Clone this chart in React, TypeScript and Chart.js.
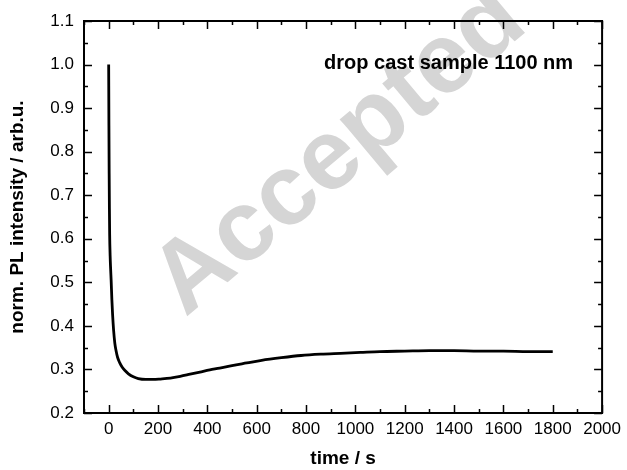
import { useEffect, useRef } from "react";
import { Chart, registerables } from "chart.js";

Chart.register(...registerables);

// Normalised PL intensity transient of the drop-cast film
const timeS = [
  0, 1, 2, 3, 4, 6, 8, 10, 13, 16, 20, 25, 30, 36, 45, 55, 65, 80, 100, 120,
  150, 180, 210, 250, 290, 330, 370, 410, 450, 500, 560, 620, 700, 780, 860,
  940, 1020, 1100, 1200, 1300, 1400, 1500, 1600, 1700, 1800,
];
const normPL = [
  1.0, 0.86, 0.75, 0.67, 0.61, 0.56, 0.53, 0.505, 0.46, 0.425, 0.39, 0.36,
  0.343, 0.328, 0.315, 0.305, 0.298, 0.29, 0.283, 0.279, 0.277, 0.277, 0.278,
  0.28, 0.284, 0.289, 0.294, 0.299, 0.303, 0.309, 0.315, 0.321, 0.327, 0.332,
  0.335, 0.337, 0.339, 0.341, 0.342, 0.343, 0.343, 0.342, 0.342, 0.341, 0.341,
];

const xTickValues = [0, 200, 400, 600, 800, 1000, 1200, 1400, 1600, 1800, 2000];
const xMinorValues = [-100, 100, 300, 500, 700, 900, 1100, 1300, 1500, 1700, 1900];
const yTickValues = [0.2, 0.3, 0.4, 0.5, 0.6, 0.7, 0.8, 0.9, 1.0, 1.1];
const yMinorValues = [0.25, 0.35, 0.45, 0.55, 0.65, 0.75, 0.85, 0.95, 1.05];

const xTitle = "time / s";
const yTitle = "norm. PL intensity / arb.u.";
const sampleLabel = "drop cast sample 1100 nm";
const stampText = "Accepted";

const FONT = '"Liberation Sans", Arial, Helvetica, sans-serif';

// Light grey diagonal stamp behind the curve
const stampPlugin = {
  id: "stamp",
  beforeDatasetsDraw(chart: any) {
    const { ctx } = chart;
    ctx.save();
    ctx.translate(340, 152);
    ctx.rotate((-40 * Math.PI) / 180);
    ctx.font = `bold 100px ${FONT}`;
    ctx.fillStyle = "#d5d5d5";
    ctx.textAlign = "center";
    ctx.textBaseline = "middle";
    ctx.fillText(stampText, 0, 0);
    ctx.restore();
  },
};

// Boxed frame with inward ticks on all four sides, plus the sample label
const framePlugin = {
  id: "frameTicks",
  afterDatasetsDraw(chart: any) {
    const { ctx, chartArea } = chart;
    const { left, right, top, bottom } = chartArea;
    const xs = chart.scales.x;
    const ys = chart.scales.y;
    ctx.save();
    ctx.strokeStyle = "#000";
    ctx.lineWidth = 1.5;
    ctx.beginPath();
    const xMark = (v: number, len: number) => {
      const px = Math.round(xs.getPixelForValue(v)) + 0.5;
      ctx.moveTo(px, bottom);
      ctx.lineTo(px, bottom - len);
      ctx.moveTo(px, top);
      ctx.lineTo(px, top + len);
    };
    const yMark = (v: number, len: number) => {
      const py = Math.round(ys.getPixelForValue(v)) + 0.5;
      ctx.moveTo(left, py);
      ctx.lineTo(left + len, py);
      ctx.moveTo(right, py);
      ctx.lineTo(right - len, py);
    };
    xTickValues.forEach((v) => xMark(v, 8));
    xMinorValues.forEach((v) => xMark(v, 4));
    yTickValues.forEach((v) => yMark(v, 8));
    yMinorValues.forEach((v) => yMark(v, 4));
    ctx.stroke();
    ctx.lineWidth = 2;
    ctx.strokeRect(left, top, right - left, bottom - top);

    ctx.fillStyle = "#000";
    ctx.font = `bold 20px ${FONT}`;
    ctx.textAlign = "right";
    ctx.textBaseline = "middle";
    ctx.fillText(sampleLabel, right - 29, top + 42);
    ctx.restore();
  },
};

export default function App() {
  const canvasRef = useRef<HTMLCanvasElement | null>(null);

  useEffect(() => {
    const canvas = canvasRef.current;
    if (!canvas) return;
    const chart = new Chart(canvas, {
      type: "line",
      data: {
        datasets: [
          {
            data: timeS.map((t, i) => ({ x: t, y: normPL[i] })),
            borderColor: "#000",
            borderWidth: 2.8,
            pointRadius: 0,
            fill: false,
            cubicInterpolationMode: "monotone",
          },
        ],
      },
      options: {
        responsive: false,
        animation: false,
        events: [],
        layout: { padding: { top: 21, right: 20, left: 0, bottom: 0 } },
        plugins: {
          legend: { display: false },
          tooltip: { enabled: false },
        },
        scales: {
          x: {
            type: "linear",
            min: -100,
            max: 2000,
            afterBuildTicks: (scale: any) => {
              scale.ticks = xTickValues.map((v) => ({ value: v }));
            },
            afterFit: (scale: any) => {
              scale.height = 57;
            },
            grid: { display: false, drawTicks: false },
            border: { display: false },
            ticks: {
              color: "#000",
              padding: 6,
              maxRotation: 0,
              autoSkip: false,
              font: { family: FONT, size: 17 },
              callback: (v: any) => String(v),
            },
            title: {
              display: true,
              text: xTitle,
              color: "#000",
              padding: { top: 0, bottom: 0 },
              font: { family: FONT, size: 19, weight: "bold" },
            },
          },
          y: {
            type: "linear",
            min: 0.2,
            max: 1.1,
            afterBuildTicks: (scale: any) => {
              scale.ticks = yTickValues.map((v) => ({ value: v }));
            },
            afterFit: (scale: any) => {
              scale.width = 84;
            },
            grid: { display: false, drawTicks: false },
            border: { display: false },
            ticks: {
              color: "#000",
              padding: 10,
              autoSkip: false,
              font: { family: FONT, size: 17 },
              callback: (v: any) => Number(v).toFixed(1),
            },
            title: {
              display: true,
              text: yTitle,
              color: "#000",
              padding: { top: 6, bottom: 0 },
              font: { family: FONT, size: 19, weight: "bold" },
            },
          },
        },
      },
      plugins: [stampPlugin, framePlugin],
    } as any);
    return () => chart.destroy();
  }, []);

  return (
    <div style={{ position: "absolute", left: 0, top: 0, width: 627, height: 470, background: "#fff" }}>
      <canvas ref={canvasRef} width={627} height={470} style={{ display: "block" }} />
    </div>
  );
}
